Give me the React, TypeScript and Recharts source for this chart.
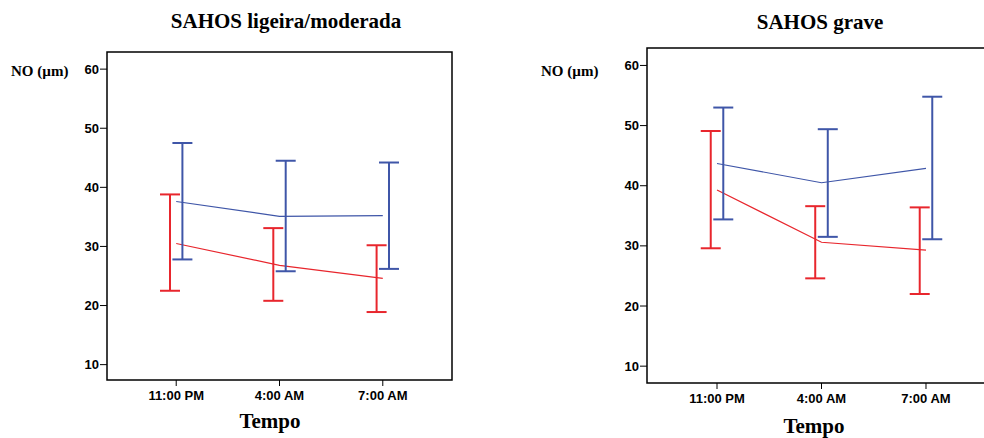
import { ComposedChart, Line, Scatter, ErrorBar, XAxis, YAxis, ReferenceArea } from "recharts"

const times = ["11:00 PM", "4:00 AM", "7:00 AM"]
const yTicks = [10, 20, 30, 40, 50, 60]

// SAHOS ligeira/moderada
const mildBlueMean = [37.6, 35.1, 35.2]
const mildBlueLow = [27.8, 25.8, 26.2]
const mildBlueHigh = [47.5, 44.5, 44.2]
const mildRedMean = [30.5, 26.8, 24.6]
const mildRedLow = [22.5, 20.8, 18.9]
const mildRedHigh = [38.8, 33.1, 30.2]

// SAHOS grave
const severeBlueMean = [43.7, 40.5, 42.9]
const severeBlueLow = [34.4, 31.5, 31.1]
const severeBlueHigh = [53.0, 49.4, 54.8]
const severeRedMean = [39.3, 30.6, 29.3]
const severeRedLow = [29.6, 24.6, 22.0]
const severeRedHigh = [49.1, 36.6, 36.4]

const BLUE = "#3f56a8"
const RED = "#e8262d"
const DODGE = 0.06
const X_DOMAIN: [number, number] = [0.33, 3.67]

const tickFont = { fontFamily: "Liberation Sans, Arial, sans-serif", fontWeight: 700, fontSize: 13, fill: "#000" }
const serif = "Liberation Serif, Times New Roman, serif"

function errRows(mean: number[], low: number[], high: number[], shift: number) {
  return mean.map((m, i) => ({ t: i + 1 + shift, v: m, err: [m - low[i], high[i] - m] }))
}

type PanelProps = {
  title: string
  left: number
  width: number
  margin: { top: number; right: number; bottom: number; left: number }
  yDomain: [number, number]
  blue: number[][]
  red: number[][]
  titleX: number
  titleY: number
  tempoX: number
  tempoY: number
  noX: number
}

function Panel(p: PanelProps) {
  const [bMean, bLow, bHigh] = p.blue
  const [rMean, rLow, rHigh] = p.red
  const data = times.map((_, i) => ({ t: i + 1, blue: bMean[i], red: rMean[i] }))
  return (
    <div style={{ position: "absolute", left: p.left, top: 0, width: p.width, height: 438 }}>
      <div style={{ position: "absolute", left: p.titleX - 200, width: 400, top: p.titleY, textAlign: "center", fontFamily: serif, fontWeight: 700, fontSize: 21 }}>
        {p.title}
      </div>
      <div style={{ position: "absolute", left: p.noX, top: 63, fontFamily: serif, fontWeight: 700, fontSize: 15 }}>
        NO (µm)
      </div>
      <div style={{ position: "absolute", left: p.tempoX - 100, width: 200, top: p.tempoY, textAlign: "center", fontFamily: serif, fontWeight: 700, fontSize: 21 }}>
        Tempo
      </div>
      <ComposedChart width={p.width} height={438} data={data} margin={p.margin}>
        <XAxis
          dataKey="t"
          type="number"
          domain={X_DOMAIN}
          ticks={[1, 2, 3]}
          tickFormatter={(v) => times[v - 1]}
          allowDataOverflow
          height={30}
          tickSize={6}
          tickMargin={5}
          stroke="#000"
          axisLine={false}
          tick={tickFont}
        />
        <YAxis
          type="number"
          domain={p.yDomain}
          ticks={yTicks}
          allowDataOverflow
          width={40}
          tickSize={7}
          tickMargin={1}
          stroke="#000"
          axisLine={false}
          tick={tickFont}
        />
        <ReferenceArea
          x1={X_DOMAIN[0]}
          x2={X_DOMAIN[1]}
          y1={p.yDomain[0]}
          y2={p.yDomain[1]}
          fill="none"
          stroke="#000"
          strokeWidth={1.5}
          fillOpacity={0}
          ifOverflow="visible"
        />
        <Line dataKey="blue" stroke={BLUE} strokeWidth={1.2} dot={false} isAnimationActive={false} />
        <Line dataKey="red" stroke={RED} strokeWidth={1.2} dot={false} isAnimationActive={false} />
        <Scatter data={errRows(bMean, bLow, bHigh, DODGE)} dataKey="v" shape={() => <g />} isAnimationActive={false}>
          <ErrorBar dataKey="err" direction="y" width={10} stroke={BLUE} strokeWidth={2} />
        </Scatter>
        <Scatter data={errRows(rMean, rLow, rHigh, -DODGE)} dataKey="v" shape={() => <g />} isAnimationActive={false}>
          <ErrorBar dataKey="err" direction="y" width={10} stroke={RED} strokeWidth={2} />
        </Scatter>
      </ComposedChart>
    </div>
  )
}

export default function App() {
  return (
    <div style={{ position: "absolute", left: 0, top: 0, width: 984, height: 438, overflow: "hidden", background: "#fff" }}>
      <Panel
        title="SAHOS ligeira/moderada"
        left={0}
        width={470}
        margin={{ top: 52, right: 18, bottom: 28, left: 67 }}
        yDomain={[7.4, 62.9]}
        blue={[mildBlueMean, mildBlueLow, mildBlueHigh]}
        red={[mildRedMean, mildRedLow, mildRedHigh]}
        titleX={286}
        titleY={9}
        tempoX={270}
        tempoY={409}
        noX={11}
      />
      <Panel
        title="SAHOS grave"
        left={494}
        width={520}
        margin={{ top: 48, right: 18, bottom: 25, left: 113 }}
        yDomain={[7.2, 62.9]}
        blue={[severeBlueMean, severeBlueLow, severeBlueHigh]}
        red={[severeRedMean, severeRedLow, severeRedHigh]}
        titleX={326}
        titleY={10}
        tempoX={320}
        tempoY={414}
        noX={47}
      />
    </div>
  )
}
